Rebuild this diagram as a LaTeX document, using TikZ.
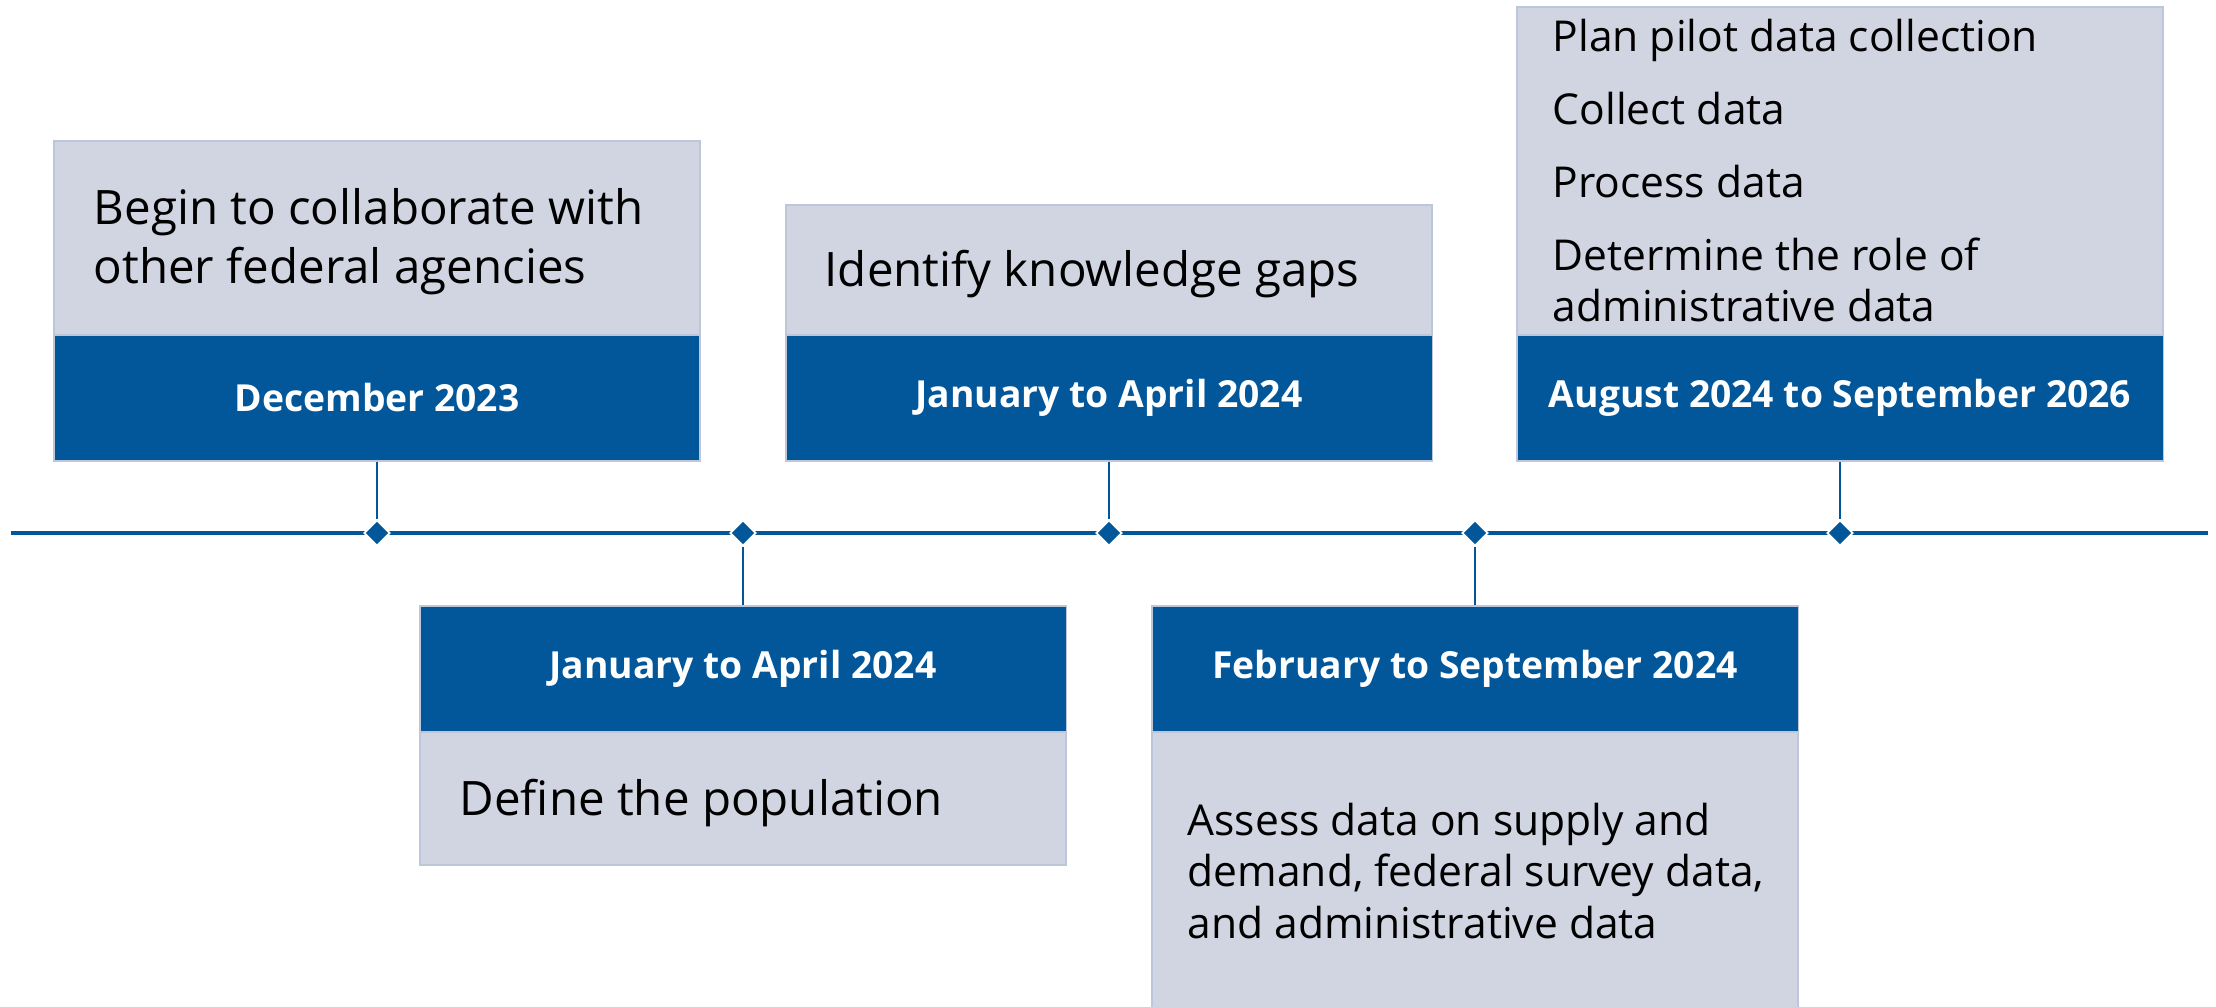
\documentclass[tikz,border=0pt]{standalone}
\usepackage{fontspec}
\setmainfont{Open Sans}
\usetikzlibrary{shapes.geometric}

\definecolor{tlblue}{RGB}{2,86,154}
\definecolor{tlgray}{RGB}{209,213,226}
\definecolor{tledge}{RGB}{190,198,218}

\tikzset{
  datebox/.style={fill=tlblue,draw=tledge,line width=0.4pt,text=white,
    minimum width=6.46cm,minimum height=1.26cm,inner sep=0pt,
    font=\fontsize{10.6}{12}\selectfont\bfseries},
  taskbox/.style={fill=tlgray,draw=tledge,line width=0.4pt},
  tasktext/.style={anchor=west,inner sep=0pt,align=left,
    font=\fontsize{13.5}{16.8}\selectfont},
  smalltext/.style={tasktext,font=\fontsize{12.1}{14.7}\selectfont},
  marker/.style={diamond,fill=tlblue,draw=white,line width=0.5pt,
    minimum size=0.26cm,inner sep=0pt},
  stem/.style={draw=tlblue,line width=0.7pt}
}

\begin{document}
\begin{tikzpicture}[x=0.01cm,y=-0.01cm]
\useasboundingbox (0,0) rectangle (2216,1007);
% ---------- time axis ----------
\draw[tlblue,line width=1.2pt] (11,533) -- (2208,533);
\foreach \n/\mx in {1/377, 2/743, 3/1109, 4/1475, 5/1840}{
  \node[marker] (m\n) at (\mx,533) {};
}
% ---------- upper boxes ----------
\draw[taskbox] (54,141) rectangle (700,335);
\node[datebox] (date1) at (377,398) {December 2023};
\node[tasktext] (task1) at (93,242) {Begin to collaborate with\\other federal agencies};

\draw[taskbox] (786,205) rectangle (1432,335);
\node[datebox] (date3) at (1109,398) {January to April 2024};
\node[tasktext] (task3) at (824,274) {Identify knowledge gaps};

\draw[taskbox] (1517,7) rectangle (2163,335);
\node[datebox] (date5) at (1840,398) {August 2024 to September 2026};
\node[smalltext] (task5a) at (1552,40) {Plan pilot data collection};
\node[smalltext] (task5b) at (1552,109) {Collect data};
\node[smalltext] (task5c) at (1552,182) {Process data};
\node[smalltext] (task5d) at (1552,280) {Determine the role of\\administrative data};

% ---------- lower boxes ----------
\draw[taskbox] (420,732) rectangle (1066,865);
\node[datebox] (date2) at (743,669) {January to April 2024};
\node[tasktext] (task2) at (459,803) {Define the population};

\draw[taskbox] (1152,732) rectangle (1798,1012);
\node[datebox] (date4) at (1475,669) {February to September 2024};
\node[smalltext] (task4) at (1187,871)
  {Assess data on supply and\\demand, federal survey data,\\and administrative data};

% ---------- stems ----------
\foreach \n in {1,3,5}{
  \draw[stem] (date\n.south) -- (m\n.north);
}
\foreach \n in {2,4}{
  \draw[stem] (m\n.south) -- (date\n.north);
}
\end{tikzpicture}
\end{document}
